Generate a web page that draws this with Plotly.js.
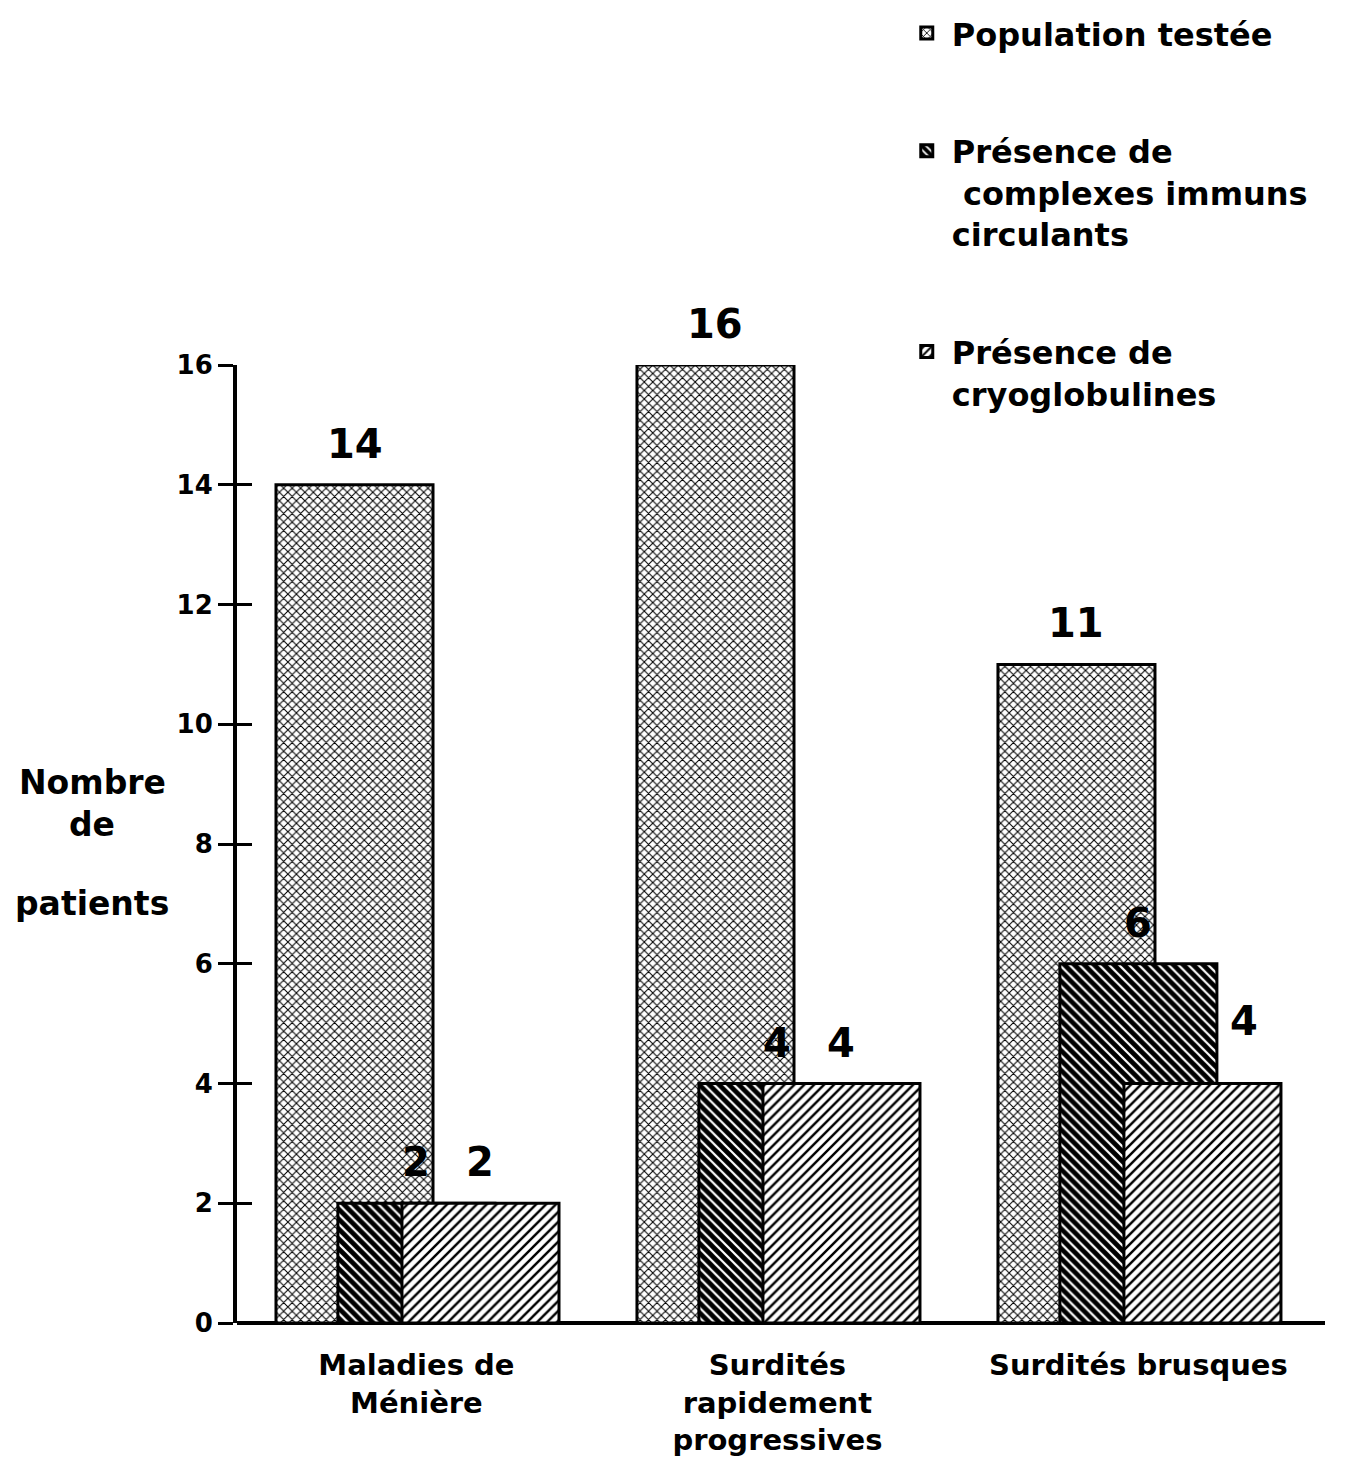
<!DOCTYPE html>
<html><head><meta charset="utf-8">
<script src="https://cdn.plot.ly/plotly-3.0.1.min.js"></script>
<style>html,body{margin:0;padding:0;background:#fff;}#chart{width:1363px;height:1460px;}</style>
</head><body><div id="chart"></div>
<script>
const categories = ["Maladies de<br>Ménière", "Surdités<br>rapidement<br>progressives", "Surdités brusques"];
const population = [14, 16, 11];
const complexes = [2, 4, 6];
const cryo = [2, 4, 4];
const seriesNames = ["Population testée", "Présence de<br> complexes immuns<br>circulants", "Présence de<br>cryoglobulines"];
const yTicks = [0, 2, 4, 6, 8, 10, 12, 14, 16];
const yTitleLines = ["Nombre", "de", "patients"];

const xIdx = categories.map((c, i) => i);
const W = 0.435;
const offsets = [-0.389, -0.2175, -0.040];
const F = "DejaVu Sans";

function barTrace(vals, name, off, shape, size, solidity, group) {
  return {
    type: 'bar', x: xIdx, y: vals, name: name, width: W, offset: off,
    legendgroup: group,
    marker: { color: 'white', line: { color: 'black', width: 3 },
      pattern: { shape: shape, size: size, solidity: solidity, fgcolor: 'black', bgcolor: 'white', fillmode: 'replace' } },
    hoverinfo: 'none'
  };
}

const traces = [
  barTrace(population, seriesNames[0], offsets[0], 'x', 6, 0.32, 'g1'),
  barTrace(complexes, seriesNames[1], offsets[1], '\\', 7, 0.68, 'g2'),
  barTrace(cryo, seriesNames[2], offsets[2], '/', 7, 0.35, 'g3'),
  { type: 'scatter', x: [0], y: [0], yaxis: 'y2', mode: 'markers', marker: { opacity: 0 }, showlegend: false, hoverinfo: 'none' }
];

const annotations = [];
const seriesVals = [population, complexes, cryo];
seriesVals.forEach((vals, s) => {
  vals.forEach((v, i) => {
    let xs = 0, ys = 0;
    if (s === 2 && i === 2) { xs = 42; ys = 22; }
    annotations.push({ x: i + offsets[s] + W / 2, y: v, xref: 'x', yref: 'y', text: String(v),
      showarrow: false, yanchor: 'bottom', yshift: 16 + ys, xshift: xs,
      font: { family: F, size: 40, color: 'black', weight: 'bold' } });
  });
});
const titleY = [0.564, 0.520, 0.438];
yTitleLines.forEach((t, k) => {
  annotations.push({ xref: 'paper', yref: 'paper', x: -0.133, y: titleY[k], xanchor: 'center', yanchor: 'middle',
    text: t, showarrow: false, font: { family: F, size: 33, color: 'black', weight: 'bold' } });
});

const layout = {
  width: 1363, height: 1460,
  margin: { l: 237, r: 38, t: 365, b: 137, autoexpand: false },
  paper_bgcolor: 'white', plot_bgcolor: 'white',
  barmode: 'overlay',
  showlegend: true,
  legend: { x: 0.611, xanchor: 'left', y: 1.375, yanchor: 'top', valign: 'top', itemwidth: 40,
    font: { family: F, size: 32, color: 'black', weight: 'bold' },
    tracegroupgap: 73, traceorder: 'grouped', bgcolor: 'rgba(0,0,0,0)' },
  xaxis: { range: [-0.497, 2.517], tickvals: xIdx, ticktext: categories, showgrid: false, zeroline: false,
    showline: false, ticks: '', ticklabelstandoff: 22,
    tickfont: { family: F, size: 29, color: 'black', weight: 'bold' } },
  yaxis: { range: [0, 16], tickvals: yTicks, showgrid: false, zeroline: true, zerolinecolor: 'black', zerolinewidth: 4,
    showline: true, linecolor: 'black', linewidth: 4, ticks: 'outside', ticklen: 15, tickwidth: 3, tickcolor: 'black',
    tickfont: { family: F, size: 26, color: 'black', weight: 'bold' } },
  yaxis2: { overlaying: 'y', side: 'left', range: [0, 16], tickvals: yTicks, showticklabels: false, showgrid: false,
    zeroline: false, showline: false, ticks: 'inside', ticklen: 15, tickwidth: 3, tickcolor: 'black' },
  annotations: annotations
};

Plotly.newPlot('chart', traces, layout, { staticPlot: true });
</script>
</body></html>
